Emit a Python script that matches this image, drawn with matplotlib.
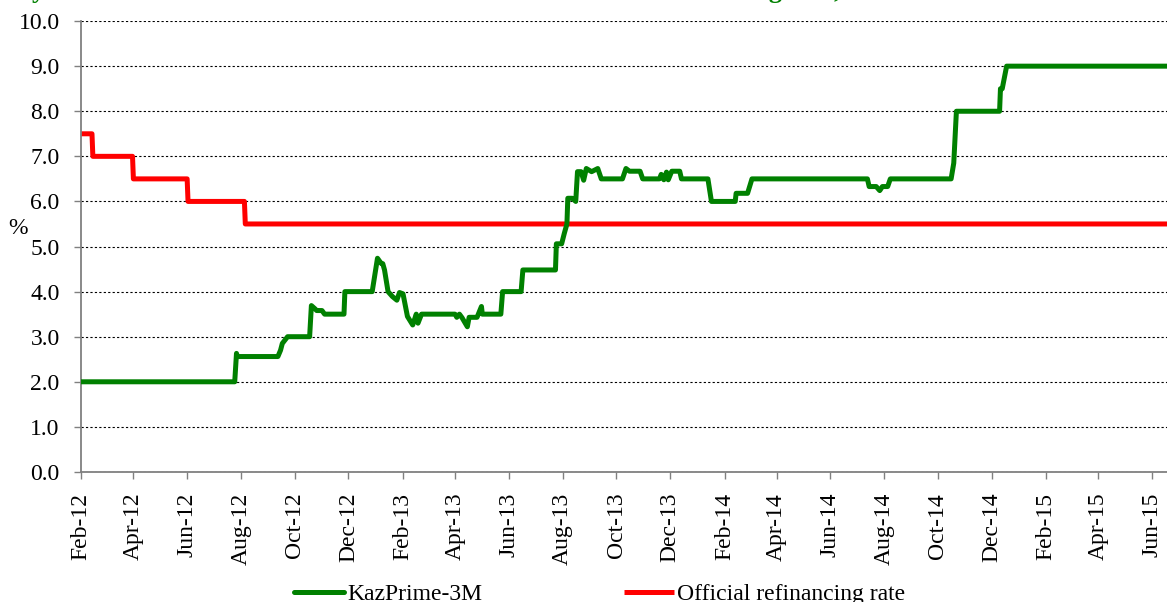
import numpy as np
import pandas as pd
import matplotlib
matplotlib.use("Agg")
import matplotlib.pyplot as plt
import matplotlib.dates as mdates

# KazPrime-3M fixing, %
kazprime_dates = [
    "2012-02-01", "2012-07-25", "2012-07-27", "2012-07-28", "2012-09-12", "2012-09-15",
    "2012-09-17", "2012-09-23", "2012-10-18", "2012-10-20", "2012-10-24", "2012-10-26",
    "2012-11-01", "2012-11-04", "2012-11-26", "2012-11-27", "2012-12-28", "2013-01-03",
    "2013-01-07", "2013-01-09", "2013-01-11", "2013-01-15", "2013-01-20", "2013-01-25",
    "2013-01-28", "2013-02-01", "2013-02-06", "2013-02-12", "2013-02-16", "2013-02-18",
    "2013-02-22", "2013-04-01", "2013-04-03", "2013-04-06", "2013-04-09", "2013-04-15",
    "2013-04-17", "2013-04-26", "2013-05-01", "2013-05-02", "2013-05-23", "2013-05-25",
    "2013-06-15", "2013-06-17", "2013-07-24", "2013-07-25", "2013-07-31", "2013-08-03",
    "2013-08-06", "2013-08-07", "2013-08-12", "2013-08-16", "2013-08-18", "2013-08-22",
    "2013-08-25", "2013-08-28", "2013-09-03", "2013-09-10", "2013-09-14", "2013-10-08",
    "2013-10-12", "2013-10-16", "2013-10-28", "2013-10-31", "2013-11-19", "2013-11-21",
    "2013-11-24", "2013-11-27", "2013-11-29", "2013-12-03", "2013-12-12", "2013-12-14",
    "2014-01-13", "2014-01-17", "2014-02-13", "2014-02-14", "2014-02-27", "2014-03-04",
    "2014-07-13", "2014-07-15", "2014-07-23", "2014-07-27", "2014-07-30", "2014-08-05",
    "2014-08-08", "2014-10-16", "2014-10-19", "2014-10-22", "2014-12-10", "2014-12-11",
    "2014-12-13", "2014-12-18", "2015-06-18",
]
kazprime_values = [
    2.00, 2.00, 2.63, 2.56, 2.56, 2.70,
    2.85, 3.00, 3.00, 3.69, 3.62, 3.58,
    3.58, 3.50, 3.50, 4.00, 4.00, 4.74,
    4.63, 4.62, 4.48, 4.00, 3.89, 3.81,
    3.98, 3.95, 3.45, 3.26, 3.50, 3.30,
    3.50, 3.50, 3.43, 3.50, 3.42, 3.22,
    3.43, 3.43, 3.67, 3.50, 3.50, 4.00,
    4.00, 4.48, 4.48, 5.06, 5.06, 5.29,
    5.50, 6.07, 6.07, 6.00, 6.66, 6.66,
    6.47, 6.73, 6.66, 6.73, 6.50, 6.50,
    6.73, 6.67, 6.67, 6.50, 6.50, 6.60,
    6.48, 6.65, 6.48, 6.67, 6.67, 6.50,
    6.50, 6.00, 6.00, 6.18, 6.18, 6.50,
    6.50, 6.33, 6.33, 6.24, 6.33, 6.33,
    6.50, 6.50, 6.85, 8.00, 8.00, 8.50,
    8.50, 9.00, 9.00,
]

# official refinancing rate, %
refi_dates = [
    "2012-02-01", "2012-02-14", "2012-02-15", "2012-03-31", "2012-04-01",
    "2012-06-01", "2012-06-02", "2012-08-05", "2012-08-06", "2015-06-18",
]
refi_values = [7.5, 7.5, 7.0, 7.0, 6.5, 6.5, 6.0, 6.0, 5.5, 5.5]

series_labels = ["KazPrime-3M", "Official refinancing rate"]
title_text = "Dynamics of the KazPrime-3M indicator and the official refinancing rate, %"

plt.rcParams["font.family"] = ["Liberation Serif", "DejaVu Serif"]
plt.rcParams["font.size"] = 17

fig = plt.figure(figsize=(11.67, 6.02), dpi=100)
ax = fig.add_axes([0.069, 0.216, 0.931, 0.749])

kp = pd.to_datetime(kazprime_dates)
rf = pd.to_datetime(refi_dates)

ax.plot(kp, kazprime_values, color="#008000", lw=3.6, solid_joinstyle="round",
        solid_capstyle="round", label=series_labels[0], zorder=3)
ax.plot(rf, refi_values, color="#FF0000", lw=3.6, solid_joinstyle="round",
        solid_capstyle="butt", label=series_labels[1], zorder=2)

ax.set_xlim(pd.Timestamp("2012-02-01"), pd.Timestamp("2015-06-18"))
ax.set_ylim(0, 10)
ax.set_yticks(np.arange(0, 10.5, 1.0))
ax.yaxis.set_major_formatter(matplotlib.ticker.FormatStrFormatter("%.1f"))
ax.xaxis.set_major_locator(mdates.MonthLocator(bymonth=[2, 4, 6, 8, 10, 12]))
ax.xaxis.set_major_formatter(mdates.DateFormatter("%b-%y"))
plt.setp(ax.get_xticklabels(), rotation=90, ha="center", va="top")

ax.grid(axis="y", color="black", linestyle=(0, (2, 2)), linewidth=0.8)
ax.set_axisbelow(True)
for side in ["top", "right"]:
    ax.spines[side].set_visible(False)
for side in ["left", "bottom"]:
    ax.spines[side].set_color("#808080")
    ax.spines[side].set_linewidth(1.3)
ax.tick_params(axis="both", direction="out", length=5, width=1, color="#808080")
ax.tick_params(axis="y", pad=10)
ax.tick_params(axis="x", pad=10)

ax.set_ylabel("%", rotation=0, ha="center", va="center")
ax.yaxis.set_label_coords(-0.058, 0.54)

fig.legend(loc="center", bbox_to_anchor=(0.514, 0.013), ncol=2, frameon=False,
           handlelength=2.1, handletextpad=0.15, columnspacing=6.0)

# heading sits mostly above the canvas, only its lower part is visible
fig.text(0.011, 1.004, title_text, color="#008000", fontweight="bold",
         fontsize=19, ha="left", va="baseline")

fig.savefig("out.png", dpi=100)
